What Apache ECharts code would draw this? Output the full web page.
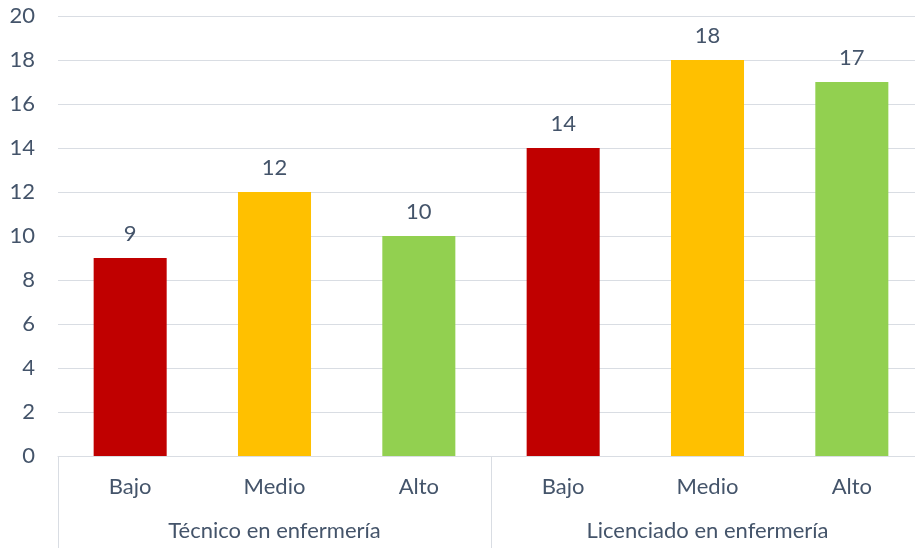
<!DOCTYPE html>
<html>
<head>
<meta charset="utf-8">
<style>
  html, body { margin: 0; padding: 0; background: #fff; }
  #chart { width: 915px; height: 548px; }
</style>
<script src="https://cdn.jsdelivr.net/npm/echarts@6/dist/echarts.min.js"></script>
</head>
<body>
<div id="chart"></div>
<script>
// chart values
var levels = ['Bajo', 'Medio', 'Alto', 'Bajo', 'Medio', 'Alto'];
var groups = ['Técnico en enfermería', 'Licenciado en enfermería'];
var counts = [9, 12, 10, 14, 18, 17];
var levelColors = ['#C00000', '#FFC000', '#92D050', '#C00000', '#FFC000', '#92D050'];

var textColor = '#44546A';
var lineColor = '#D9DDE3';
var font = 'Lato';

var chart = echarts.init(document.getElementById('chart'));

var option = {
  animation: false,
  // plot area runs a little past the right edge, like the cropped original
  grid: { left: 58, width: 866, top: 16, height: 440, containLabel: false, outerBoundsMode: 'none' },
  xAxis: [
    {
      type: 'category',
      data: levels,
      axisLine: { lineStyle: { color: lineColor, width: 1 } },
      axisTick: { show: false },
      axisLabel: { color: textColor, fontFamily: font, fontSize: 22, margin: 20 }
    },
    {
      type: 'category',
      data: groups,
      position: 'bottom',
      axisLine: { show: false },
      axisTick: { show: true, interval: 0, length: 92, lineStyle: { color: lineColor, width: 1 } },
      axisLabel: { color: textColor, fontFamily: font, fontSize: 22, margin: 64, interval: 0 }
    }
  ],
  yAxis: {
    type: 'value',
    min: 0,
    max: 20,
    interval: 2,
    axisLine: { show: false },
    axisTick: { show: false },
    splitLine: { lineStyle: { color: lineColor, width: 1 } },
    axisLabel: { color: textColor, fontFamily: font, fontSize: 22, margin: 23 }
  },
  series: [{
    type: 'bar',
    xAxisIndex: 0,
    barWidth: '50.6%',
    data: counts.map(function (v, i) {
      return { value: v, itemStyle: { color: levelColors[i] } };
    }),
    label: {
      show: true,
      position: 'top',
      distance: 13,
      color: textColor,
      fontFamily: font,
      fontSize: 22
    }
  }]
};

chart.setOption(option);
</script>
</body>
</html>
